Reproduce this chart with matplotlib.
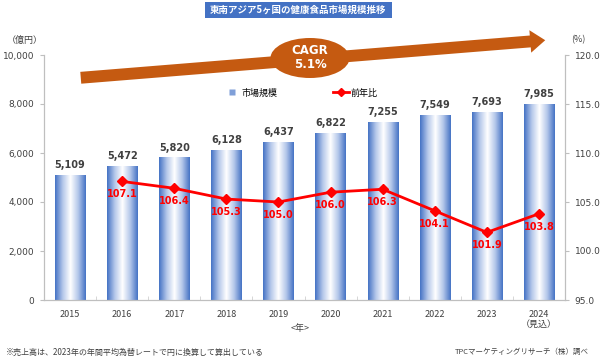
import numpy as np
import matplotlib
matplotlib.use("Agg")
import matplotlib.pyplot as plt
from matplotlib.patches import Ellipse, FancyBboxPatch
from matplotlib.lines import Line2D
from matplotlib.colors import LinearSegmentedColormap

plt.rcParams['font.family'] = ['Noto Sans CJK JP', 'DejaVu Sans']

years = ['2015', '2016', '2017', '2018', '2019', '2020', '2021', '2022', '2023', '2024\n（見込）']
market = [5109, 5472, 5820, 6128, 6437, 6822, 7255, 7549, 7693, 7985]
yoy_years = years[1:]
yoy = [107.1, 106.4, 105.3, 105.0, 106.0, 106.3, 104.1, 101.9, 103.8]

W, H = 600, 362
fig = plt.figure(figsize=(W / 100, H / 100), dpi=100)
ax = fig.add_axes([44 / W, 1 - 300 / H, 521 / W, 245 / H])
ax2 = ax.twinx()

x = np.arange(len(years))
bars = ax.bar(x, market, width=0.58, color='none', edgecolor='none', zorder=2)
cmap = LinearSegmentedColormap.from_list('g', ['#4472C4', '#B4C7EA', '#FFFFFF', '#B4C7EA', '#4472C4'])
grad = np.linspace(0, 1, 256).reshape(1, -1)
for b in bars:
    x0, w, h = b.get_x(), b.get_width(), b.get_height()
    im = ax.imshow(grad, cmap=cmap, aspect='auto', extent=[x0, x0 + w, 0, h], zorder=2)
    im.set_clip_path(b)
for xi, v in zip(x, market):
    ax.text(xi, v + 200, f'{v:,}', ha='center', va='bottom', fontsize=7, fontweight='bold',
            color='#404040', family='DejaVu Sans')

ax.set_xlim(-0.5, len(years) - 0.5)
ax.set_ylim(0, 10000)
ax.set_yticks(np.arange(0, 10001, 2000))
ax.set_yticklabels([f'{v:,}' for v in range(0, 10001, 2000)], fontsize=6.5, color='#404040', family='DejaVu Sans')
ax.set_xticks(x)
ax.set_xticklabels(years, fontsize=6.5, color='#404040', linespacing=1.1)
ax.set_xticks(np.arange(0.5, len(years) - 1, 1.0), minor=True)
ax.tick_params(axis='x', which='major', length=0, pad=7)
ax.tick_params(axis='x', which='minor', length=3, direction='in', color='#D0D0D0')
ax.tick_params(axis='y', length=3, color='#BFBFBF', pad=4)

xl = np.arange(1, len(years))
ax2.plot(xl, yoy, color='#FF0000', lw=2, marker='D', ms=5, zorder=5)
for xi, v in zip(xl, yoy):
    ax2.text(xi, v - 0.8, f'{v:.1f}', ha='center', va='top', fontsize=7, fontweight='bold',
             color='#FF0000', family='DejaVu Sans')
ax2.set_ylim(95, 120)
ax2.set_yticks(np.arange(95, 120.1, 5))
ax2.set_yticklabels([f'{v:.1f}' for v in np.arange(95, 120.1, 5)], fontsize=6.5, color='#404040', family='DejaVu Sans')
ax2.tick_params(axis='y', length=3, color='#BFBFBF', pad=4)

for a in (ax, ax2):
    a.spines['top'].set_visible(False)
    a.spines['left'].set_color('#BFBFBF')
    a.spines['right'].set_color('#BFBFBF')
    a.spines['bottom'].set_color('#BFBFBF')
ax.set_zorder(ax2.get_zorder() - 1)
ax.patch.set_visible(False)
ax2.patch.set_visible(False)

# legend
handles = [Line2D([], [], ls='none', marker='s', ms=4, markerfacecolor='#7F9FD8', markeredgecolor='none'),
           Line2D([], [], color='#FF0000', lw=2, marker='D', ms=4)]
leg = ax2.legend(handles, ['市場規模', '前年比'], loc='center', bbox_to_anchor=(0.493, 0.845), ncol=2,
                 frameon=False, fontsize=6.5, columnspacing=6.2, handlelength=1.7, handletextpad=0.2)

# title box
fig.patches.append(FancyBboxPatch((205 / W, 1 - 18 / H), 187 / W, 16 / H, boxstyle='square,pad=0',
                                  transform=fig.transFigure, facecolor='#4472C4', edgecolor='none'))
fig.text(298.5 / W, 1 - 10 / H, '東南アジア5ヶ国の健康食品市場規模推移', ha='center', va='center',
         fontsize=6.8, fontweight='bold', color='white')

# CAGR arrow
fig.add_artist(matplotlib.patches.FancyArrowPatch(
    (78, H - 78), (548, H - 40), transform=None,
    arrowstyle='simple,head_width=1.8,head_length=1.2,tail_width=0.95', mutation_scale=9,
    color='#C55A11', lw=0))
fig.add_artist(Ellipse((310, H - 58), 79, 40, transform=None, facecolor='#C55A11', edgecolor='none'))
fig.text(310 / W, 1 - 58 / H, 'CAGR\n5.1%', ha='center', va='center', fontsize=8.5, fontweight='bold',
         color='white', linespacing=1.1, family='DejaVu Sans')

fig.text(25 / W, 1 - 40 / H, '（億円）', ha='center', va='center', fontsize=6.5, color='#404040')
fig.text(578 / W, 1 - 40 / H, '(%)', ha='center', va='center', fontsize=6.5, color='#404040')
fig.text(300 / W, 1 - 328 / H, '<年>', ha='center', va='center', fontsize=6.5, color='#404040')
fig.text(6 / W, 1 - 352 / H, '※売上高は、2023年の年間平均為替レートで円に換算して算出している', ha='left', va='center',
         fontsize=5.8, color='#404040')
fig.text(589 / W, 1 - 352 / H, 'TPCマーケティングリサーチ（株）調べ', ha='right', va='center',
         fontsize=5.4, color='#404040')

fig.savefig('out.png', dpi=100)
